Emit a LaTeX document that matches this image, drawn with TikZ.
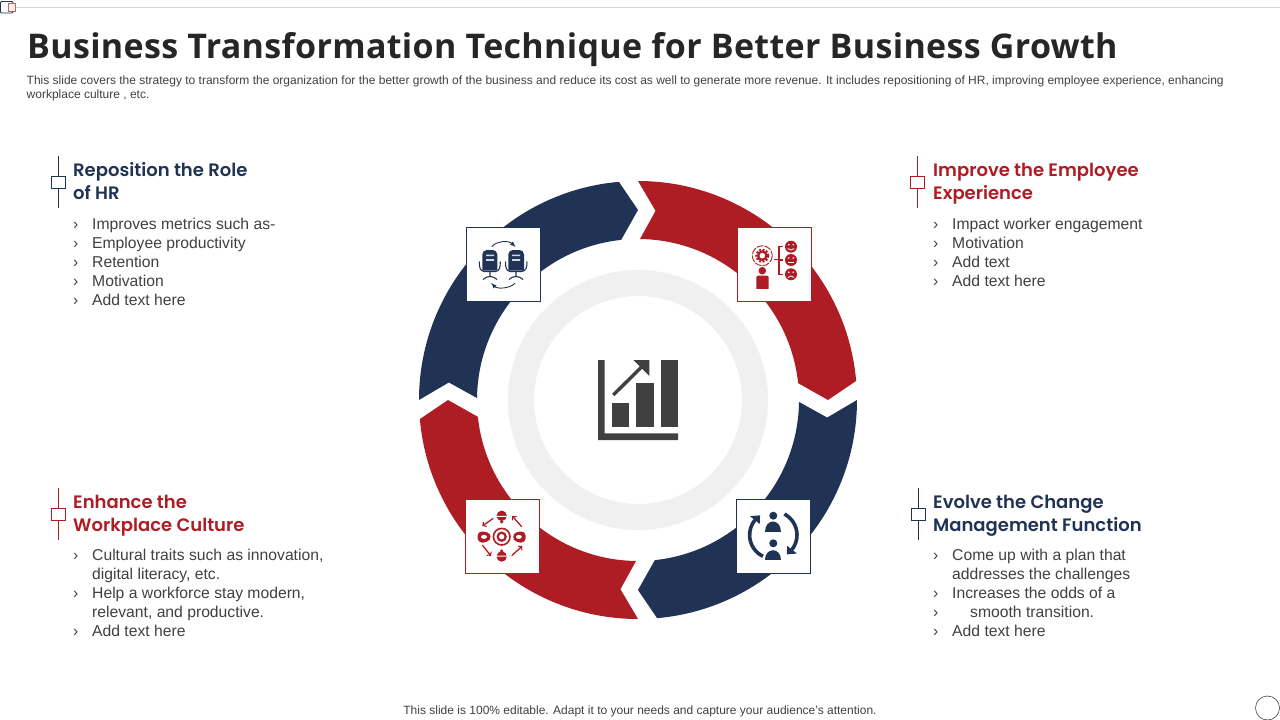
\documentclass[tikz,border=0pt]{standalone}
\usepackage{fontspec}
\setmainfont{Liberation Sans}
\newfontfamily\titlefont[LetterSpace=1.0]{Open Sans}
\newfontfamily\headfont[BoldFont={Poppins SemiBold}]{Poppins}
\usepackage{tikz}
\definecolor{ringred}{HTML}{AE1C24}
\definecolor{ringnavy}{HTML}{203354}
\definecolor{ringgray}{HTML}{F0F0F0}
\definecolor{bodygray}{HTML}{404040}
\newcommand{\bul}{\makebox[19pt][l]{›}}
\tikzset{
    headtext/.style={anchor=north west,inner sep=0pt,align=left,font=\headfont\bfseries\fontsize{18}{23}\selectfont},
    listtext/.style={anchor=north west,inner sep=0pt,align=left,text=bodygray,font=\fontsize{15.7}{19}\selectfont},
    smalltext/.style={inner sep=0pt,align=left,text=bodygray,font=\fontsize{12}{14}\selectfont},
    iconbox/.style={draw,fill=white,line width=0.8pt,minimum size=74pt,inner sep=0pt},
    tickbox/.style={draw,fill=white,line width=0.7pt,minimum width=14pt,minimum height=12pt,inner sep=0pt},
}
\begin{document}
\begin{tikzpicture}[x=1pt,y=-1pt]
    \useasboundingbox (0,0) rectangle (1280,720);
    % top corner and rule
    \draw [gray!30,line width=0.8pt] (15,7.5) -- (1280,7.5);
    \draw [ringnavy,line width=0.8pt,rounded corners=1pt] (0.5,1.5) rectangle (13,13);
    \draw [ringred!70,fill=red!6,line width=0.6pt] (8,3) rectangle (15,11);
    \draw [bodygray,line width=0.6pt] (1267.5,708) circle (12);
    % title
    \node [anchor=base west,inner sep=0pt,text=black!85,font=\titlefont\bfseries\fontsize{34}{40}\selectfont] (title) at (27,58.5) {Business Transformation Technique for Better Business Growth};
    \node [smalltext,anchor=north west] (intro) at (26.5,75.5) {This slide covers the strategy to transform the organization for the better growth of the business and reduce its cost as well to generate more revenue. It includes repositioning of HR, improving employee experience, enhancing\\workplace culture , etc.};
    \node [smalltext,anchor=center] (footer) at (640,711.5) {This slide is 100\% editable. Adapt it to your needs and capture your audience's attention.};
    % ring
    \begin{scope}[shift={(638,400)},y=1pt]
    \fill [ringred] (90:219) arc [start angle=90,end angle=5,radius=219pt] -- (0:190) -- (6:161) arc [start angle=6,end angle=89.3,radius=161pt] -- (84.7:190) -- cycle;
    \fill [ringnavy] (0:219) arc [start angle=0,end angle=-85,radius=219pt] -- (-90:190) -- (-84:161) arc [start angle=-84,end angle=-0.7,radius=161pt] -- (-5.3:190) -- cycle;
    \fill [ringred] (-90:219) arc [start angle=-90,end angle=-175,radius=219pt] -- (180:190) -- (-174:161) arc [start angle=-174,end angle=-90.7,radius=161pt] -- (-95.3:190) -- cycle;
    \fill [ringnavy] (180:219) arc [start angle=180,end angle=95,radius=219pt] -- (90:190) -- (96:161) arc [start angle=96,end angle=179.3,radius=161pt] -- (174.7:190) -- cycle;
    \end{scope}
    \node [circle,draw=ringgray,line width=26pt,minimum size=234pt,inner sep=0pt] (hub) at (638,400) {};
    % chart in the hub
    \begin{scope}[bodygray]
    \fill (598,360) -- (604.7,360) -- (604.7,433.3) -- (678,433.3) -- (678,440) -- (598,440) -- cycle;
    \fill (612,403.3) rectangle (629.3,426.7);
    \fill (636.3,382.7) rectangle (653.7,426.7);
    \fill (660.7,360) rectangle (678,426.7);
    \draw [line width=3.4pt] (613.3,395) -- (643,365.5);
    \fill (633.3,360) -- (649.3,360) -- (649.3,376) -- cycle;
    \end{scope}
    % icon boxes
    \node [iconbox,draw=ringnavy] (boxHR) at (503.3,264.3) {};
    \node [iconbox,draw=ringred] (boxEmployee) at (774.3,264.3) {};
    \node [iconbox,draw=ringred] (boxCulture) at (502.3,536.5) {};
    \node [iconbox,draw=ringnavy] (boxChange) at (773.3,536.5) {};
    % seats
    \begin{scope}[ringnavy,line width=1.1pt]
    \fill [rounded corners=4.5pt] (482.3,250) rectangle (497.3,276);
    \fill [rounded corners=4.5pt] (508.3,250) rectangle (524,276);
    \fill [white] (481,270.5) rectangle (499,277) (507,270.5) rectangle (525,277);
    \fill [white!80!ringnavy] (486,254.6) rectangle (494,256.2) (486,259.2) rectangle (494,260.8);
    \fill [white!80!ringnavy] (512,254.6) rectangle (520,256.2) (512,259.2) rectangle (520,260.8);
    \draw (479.3,261.5) .. controls (479.3,268) and (480,270.5) .. (484,271.5) -- (496,271.5) .. controls (499.5,270.5) and (500.3,268) .. (500.3,261.5);
    \draw (505.5,261.5) .. controls (505.5,268) and (506.2,270.5) .. (510,271.5) -- (522,271.5) .. controls (526,270.5) and (527,268) .. (527,261.5);
    \draw (490,271) -- (490,276) (483,279.5) .. controls (487,275.5) and (493,275.5) .. (497,279.5);
    \draw (516,271) -- (516,276) (509,279.5) .. controls (513,275.5) and (519,275.5) .. (523,279.5);
    \draw [line width=0.9pt,-latex] (491.7,246.7) .. controls (497,240.5) and (509,240.5) .. (515.5,247);
    \draw [line width=0.9pt,-latex] (515,283.3) .. controls (509,289) and (497,289) .. (491.2,283);
    \end{scope}
    % gear, person and faces
    \begin{scope}[ringred]
    \draw [line width=0.9pt,dash pattern=on 7pt off 1.2pt] (762.3,255.7) circle (10);
    \fill (762.3,255.7) circle (5.4);
    \draw [line width=2pt,dash pattern=on 2pt off 1.55pt] (762.3,255.7) circle (6);
    \fill [white] (762.3,255.7) circle (2.8);
    \fill (762.3,270.7) circle (3.8);
    \fill [rounded corners=2pt] (756.3,275.7) -- (768.7,275.7) -- (768.7,292) -- (756.3,292) -- cycle;
    \fill [white] (755,289) rectangle (770,293);
    \draw [line width=1.2pt] (774.3,259.6) -- (779,259.6) (782.5,246.7) -- (779,246.7) -- (779,274.3) -- (782.5,274.3) (779,260) -- (782.5,260);
    \fill (791,246.7) circle (6);
    \fill (791,260) circle (6);
    \fill (791,274.3) circle (6);
    \fill [white] (788.8,244.7) circle (0.9) (793.2,244.7) circle (0.9) (788.8,258) circle (0.9) (793.2,258) circle (0.9) (788.8,272.3) circle (0.9) (793.2,272.3) circle (0.9);
    \draw [white,line width=0.8pt] (787.8,248.5) .. controls (789.5,250.5) and (792.5,250.5) .. (794.2,248.5);
    \draw [white,line width=0.8pt] (788,262.5) -- (794,262.5);
    \draw [white,line width=0.8pt] (787.8,277.5) .. controls (789.5,275.5) and (792.5,275.5) .. (794.2,277.5);
    \end{scope}
    % hub with people around it
    \begin{scope}[ringred]
    \draw [line width=1.6pt] (501.7,536.7) circle (8.3);
    \draw [line width=2.2pt] (501.7,536.7) circle (4);
    \fill [rounded corners=4pt] (477.7,531.5) -- (487.5,531.5) -- (492,536.9) -- (487.5,542.5) -- (477.7,542.5) -- cycle;
    \fill [rounded corners=4pt] (525.5,531.5) -- (516,531.5) -- (511.8,536.9) -- (516,542.5) -- (525.5,542.5) -- cycle;
    \fill [white] (484,536.9) ellipse (3 and 2) (518.8,536.9) ellipse (3 and 2);
    \fill (501.7,515.8) circle (5.2);
    \fill (501.7,556.5) circle (5.2);
    \fill [white] (496,515.8) rectangle (507,516.8) (496,555.5) rectangle (507,556.5);
    \fill (501.7,521.8) circle (1.8) (501.7,551) circle (1.8);
    \draw [line width=1.3pt,->] (493.3,518.3) -- (482.3,526);
    \draw [line width=1.3pt,->] (521.7,526.7) -- (512.3,516);
    \draw [line width=1.3pt,->] (482.3,545) -- (491,556);
    \draw [line width=1.3pt,->] (511.7,555.7) -- (522.3,546);
    \end{scope}
    % two people in a cycle
    \begin{scope}[ringnavy]
    \fill (773.3,515.7) circle (4);
    \fill (765,531.7) .. controls (765,518) and (781,518) .. (781,531.7) -- cycle;
    \fill (773.3,543.3) circle (4);
    \fill (765,560) .. controls (765,546.5) and (781,546.5) .. (781,560) -- cycle;
    \begin{scope}[shift={(773.3,535)},y=1pt]
    \draw [line width=3.6pt] (-116:23.7) arc [start angle=-116,end angle=-219,radius=23.7pt];
    \fill (141:17.5) -- (141:30) -- (124:23.7) -- cycle;
    \draw [line width=3.6pt] (62:23.7) arc [start angle=62,end angle=-38,radius=23.7pt];
    \fill (-38:17.5) -- (-38:30) -- (-55:23.7) -- cycle;
    \end{scope}
    \end{scope}
    % upper left block
    \node [tickbox,draw=ringnavy] (markHR) at (58,182.5) {};
    \draw [ringnavy,line width=0.7pt] (markHR.north) -- ++(0,-20.5) (markHR.south) -- ++(0,19);
    \node [headtext,text=ringnavy] (headHR) at (73,162.5) {Reposition the Role\\of HR};
    \node [listtext] (listHR) at (73,218) {\bul Improves metrics such as-\\\bul Employee productivity\\\bul Retention\\\bul Motivation\\\bul Add text here};
    % upper right block
    \node [tickbox,draw=ringred] (markEmployee) at (917.5,182.5) {};
    \draw [ringred,line width=0.7pt] (markEmployee.north) -- ++(0,-20.5) (markEmployee.south) -- ++(0,19);
    \node [headtext,text=ringred] (headEmployee) at (933,162.5) {Improve the Employee\\Experience};
    \node [listtext] (listEmployee) at (933,218) {\bul Impact worker engagement\\\bul Motivation\\\bul Add text\\\bul Add text here};
    % lower left block
    \node [tickbox,draw=ringred] (markCulture) at (58,514.5) {};
    \draw [ringred,line width=0.7pt] (markCulture.north) -- ++(0,-20.5) (markCulture.south) -- ++(0,19);
    \node [headtext,text=ringred] (headCulture) at (73,494.5) {Enhance the\\Workplace Culture};
    \node [listtext] (listCulture) at (73,549) {\bul Cultural traits such as innovation,\\\hspace*{19pt}digital literacy, etc.\\\bul Help a workforce stay modern,\\\hspace*{19pt}relevant, and productive.\\\bul Add text here};
    % lower right block
    \node [tickbox,draw=ringnavy] (markChange) at (918,514.5) {};
    \draw [ringnavy,line width=0.7pt] (markChange.north) -- ++(0,-20.5) (markChange.south) -- ++(0,19);
    \node [headtext,text=ringnavy] (headChange) at (933,494.5) {Evolve the Change\\Management Function};
    \node [listtext] (listChange) at (933,549) {\bul Come up with a plan that\\\hspace*{19pt}addresses the challenges\\\bul Increases the odds of a\\\bul\hspace*{18pt}smooth transition.\\\bul Add text here};
\end{tikzpicture}
\end{document}
